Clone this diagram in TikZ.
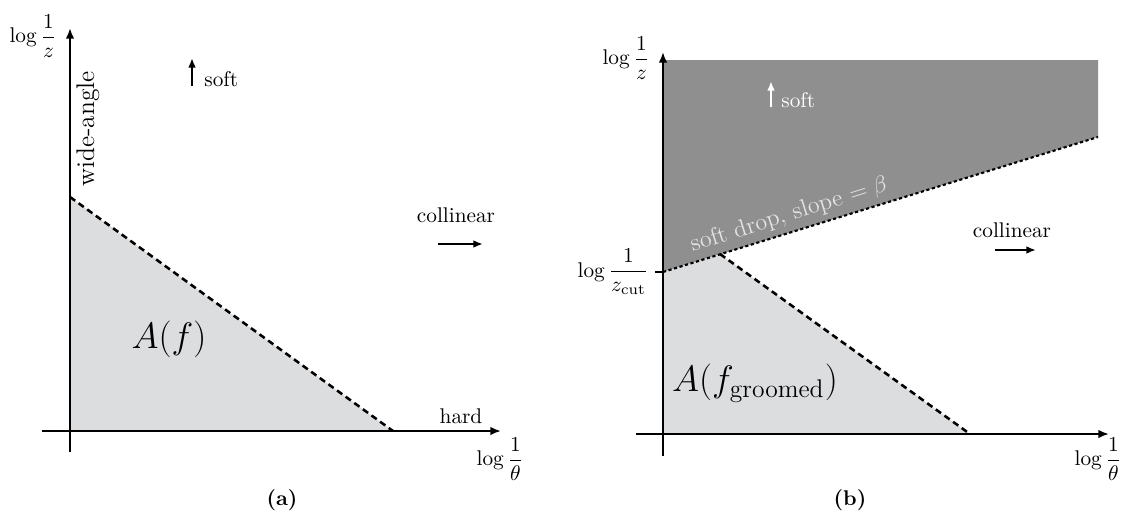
\documentclass[tikz,border=0pt]{standalone}
\usepackage{amsmath}
\usetikzlibrary{arrows.meta}
\definecolor{lightreg}{RGB}{220,221,223}
\definecolor{darkreg}{RGB}{142,143,142}
\definecolor{pale}{RGB}{228,228,228}
\begin{document}
\begin{tikzpicture}[x=0.47pt,y=-0.47pt,
  axis/.style={line width=0.9pt},
  axisarrow/.style={line width=0.9pt,-{Latex[length=5pt,width=4pt]}},
  dirarrow/.style={line width=0.9pt,-{Latex[length=4.5pt,width=3.6pt]}},
  emiss/.style={line width=1.2pt,dash pattern=on 3pt off 2pt},
  sdline/.style={line width=1pt,dash pattern=on 1.5pt off 1.2pt},
  lbl/.style={inner sep=0pt},
  big/.style={font=\LARGE,inner sep=0pt}]
\useasboundingbox (0,0) rectangle (1125,519);

% ---------- panel (a) ----------
\coordinate (aYb) at (70,452);
\coordinate (aYt) at (70,28);
\coordinate (aXl) at (42,431);
\coordinate (aXr) at (501,431);
\coordinate (aE1) at (70,197);
\coordinate (aE2) at (393,431);
\coordinate (aO) at (70,431);
\fill[lightreg] (aE1) -- (aE2) -- (aO) -- cycle;
\draw[axisarrow] (aXl) -- (aXr);
\draw[axisarrow] (aYb) -- (aYt);
\draw[emiss] (aE1) -- (aE2);

\node[lbl] (aylab) at (33,36) {$\log\dfrac{1}{z}$};
\node[lbl] (axlab) at (500,459) {$\log\dfrac{1}{\theta}$};
\node[lbl,rotate=90,font=\large] (awide) at (88,129) {wide-angle};
\coordinate (as1) at (192,86);
\coordinate (as2) at (192,58);
\draw[dirarrow] (as1) -- (as2);
\node[lbl,anchor=west] (asoft) at (204,79) {soft};
\node[lbl] (acoll) at (456,215) {collinear};
\coordinate (ac1) at (438,244);
\coordinate (ac2) at (483,244);
\draw[dirarrow] (ac1) -- (ac2);
\node[lbl] (ahard) at (461,416) {hard};
\node[big] (aA) at (169,339) {$A(f)$};
\node[lbl] (acap) at (282,500) {\textbf{(a)}};

% ---------- panel (b) ----------
\coordinate (bYb) at (663,456);
\coordinate (bYt) at (663,52);
\coordinate (bXl) at (636,434);
\coordinate (bXr) at (1109,434);
\coordinate (bO) at (663,434);
\coordinate (bZ) at (663,272);
\coordinate (bTick) at (655,272);
\coordinate (bTL) at (663,60);
\coordinate (bTR) at (1098,60);
\coordinate (bR) at (1098,137);
\coordinate (bK) at (720,254);
\coordinate (bE) at (970,434);
\fill[darkreg] (bTL) -- (bTR) -- (bR) -- (bZ) -- cycle;
\fill[lightreg] (bZ) -- (bK) -- (bE) -- (bO) -- cycle;
\draw[axisarrow] (bXl) -- (bXr);
\draw[axisarrow] (bYb) -- (bYt);
\draw[axis] (bTick) -- (bZ);
\draw[sdline] (bZ) -- (bR);
\draw[emiss] (bK) -- (bE);

\node[lbl] (bylab) at (626,58) {$\log\dfrac{1}{z}$};
\node[lbl] (bzcut) at (613,272) {$\log\dfrac{1}{z_{\mathrm{cut}}}$};
\node[lbl] (bxlab) at (1098,459) {$\log\dfrac{1}{\theta}$};
\node[lbl,rotate=17.5,text=pale,font=\fontsize{11.3}{13}\selectfont] (bsd) at (789,215) {soft drop, slope $=\beta$};
\coordinate (bs1) at (771,107);
\coordinate (bs2) at (771,81);
\draw[dirarrow,white] (bs1) -- (bs2);
\node[lbl,anchor=west,text=white] (bsoft) at (781,100) {soft};
\node[lbl] (bcoll) at (1012,230) {collinear};
\coordinate (bc1) at (995,250);
\coordinate (bc2) at (1036,250);
\draw[dirarrow] (bc1) -- (bc2);
\node[big] (bA) at (755,383) {$A(f_{\mathrm{groomed}})$};
\node[lbl] (bcap) at (850,500) {\textbf{(b)}};
\end{tikzpicture}
\end{document}
